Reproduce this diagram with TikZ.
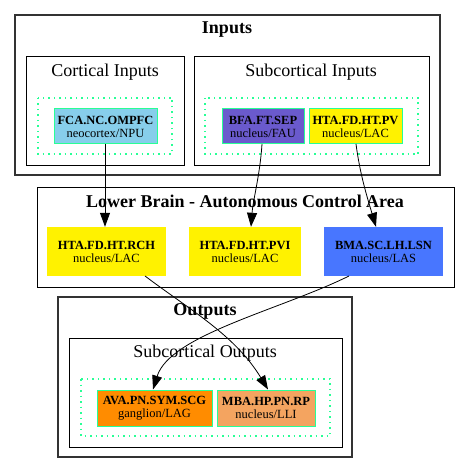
\documentclass[tikz,border=0pt]{standalone}
\usepackage{fontspec}
\setmainfont{Liberation Serif}
\usetikzlibrary{arrows.meta}
\definecolor{sgreen}{RGB}{40,255,150}
\definecolor{skyb}{RGB}{135,206,235}
\definecolor{slateb}{RGB}{106,90,205}
\definecolor{royalb}{RGB}{72,118,255}
\definecolor{dorange}{RGB}{255,140,0}
\definecolor{sandyb}{RGB}{244,164,96}
\tikzset{
  clusterbox/.style={draw=black, line width=1pt},
  outerbox/.style={draw=black!80, line width=1.2pt},
  dotbox/.style={draw=sgreen, line width=1.2pt, dash pattern=on 1.5pt off 4pt},
  bigtitle/.style={font=\fontsize{18}{20}\selectfont\bfseries, inner sep=0pt},
  subtitle/.style={font=\fontsize{18}{20}\selectfont, inner sep=0pt},
  nodebox/.style={minimum height=#1, inner sep=0pt, align=center, font=\fontsize{12.5}{13}\selectfont},
  inbox/.style={draw=sgreen, line width=1pt},
  edge/.style={-{Triangle[length=14pt,width=10pt]}, line width=0.8pt}
}
\begin{document}
\begin{tikzpicture}[x=1pt,y=-1pt]
\useasboundingbox (0,0) rectangle (471,473);
% Inputs
\draw[outerbox] (15,15) rectangle (440,175);
\node[bigtitle] (tin) at (227,30) {Inputs};
\draw[clusterbox] (26,57) rectangle (184,165);
\node[subtitle] (tci) at (105,72) {Cortical Inputs};
\draw[dotbox] (38,98) rectangle (172,154);
\draw[clusterbox] (194,57) rectangle (429,165);
\node[subtitle] (tsi) at (311,72) {Subcortical Inputs};
\draw[dotbox] (205,98) rectangle (418,154);
\node[nodebox=35pt, inbox, fill=skyb, minimum width=103pt] (fca) at (105.5,126.5) {\textbf{FCA.NC.OMPFC}\\neocortex/NPU};
\node[nodebox=35pt, inbox, fill=slateb, minimum width=82pt] (bfa) at (263,126.5) {\textbf{BFA.FT.SEP}\\nucleus/FAU};
\node[nodebox=35pt, inbox, fill=yellow, minimum width=93pt] (htpv) at (355.5,126.5) {\textbf{HTA.FD.HT.PV}\\nucleus/LAC};
% Lower brain
\draw[clusterbox] (37,187) rectangle (454,287);
\node[bigtitle] (tlb) at (245,201) {Lower Brain - Autonomous Control Area};
\node[nodebox=49pt, fill=yellow, minimum width=119pt] (rch) at (106.5,251.5) {\textbf{HTA.FD.HT.RCH}\\nucleus/LAC};
\node[nodebox=49pt, fill=yellow, minimum width=112pt] (pvi) at (245,251.5) {\textbf{HTA.FD.HT.PVI}\\nucleus/LAC};
\node[nodebox=49pt, fill=royalb, minimum width=119pt] (bma) at (383.5,251.5) {\textbf{BMA.SC.LH.LSN}\\nucleus/LAS};
% Outputs
\draw[outerbox] (58,297) rectangle (352,457);
\node[bigtitle] (tout) at (205,311) {Outputs};
\draw[clusterbox] (69,338) rectangle (342,447);
\node[subtitle] (tso) at (205,353) {Subcortical Outputs};
\draw[dotbox] (81,379) rectangle (330,436);
\node[nodebox=36pt, inbox, fill=dorange, minimum width=115pt] (ava) at (154.5,408) {\textbf{AVA.PN.SYM.SCG}\\ganglion/LAG};
\node[nodebox=36pt, inbox, fill=sandyb, minimum width=98pt] (mba) at (266,408) {\textbf{MBA.HP.PN.RP}\\nucleus/LLI};
% edges
\draw[edge] (fca.south -| 105,0) -- (rch.north -| 105,0);
\draw[edge] (262,144) .. controls (260,175) and (253,200) .. (pvi.north -| 251,0);
\draw[edge] (356,144) .. controls (360,175) and (368,200) .. (bma.north -| 376,0);
\draw[edge] (145,276) .. controls (190,310) and (235,335) .. (mba.north -| 268,0);
\draw[edge] (349,276) .. controls (280,310) and (170,335) .. (ava.north -| 153,0);
\end{tikzpicture}
\end{document}
